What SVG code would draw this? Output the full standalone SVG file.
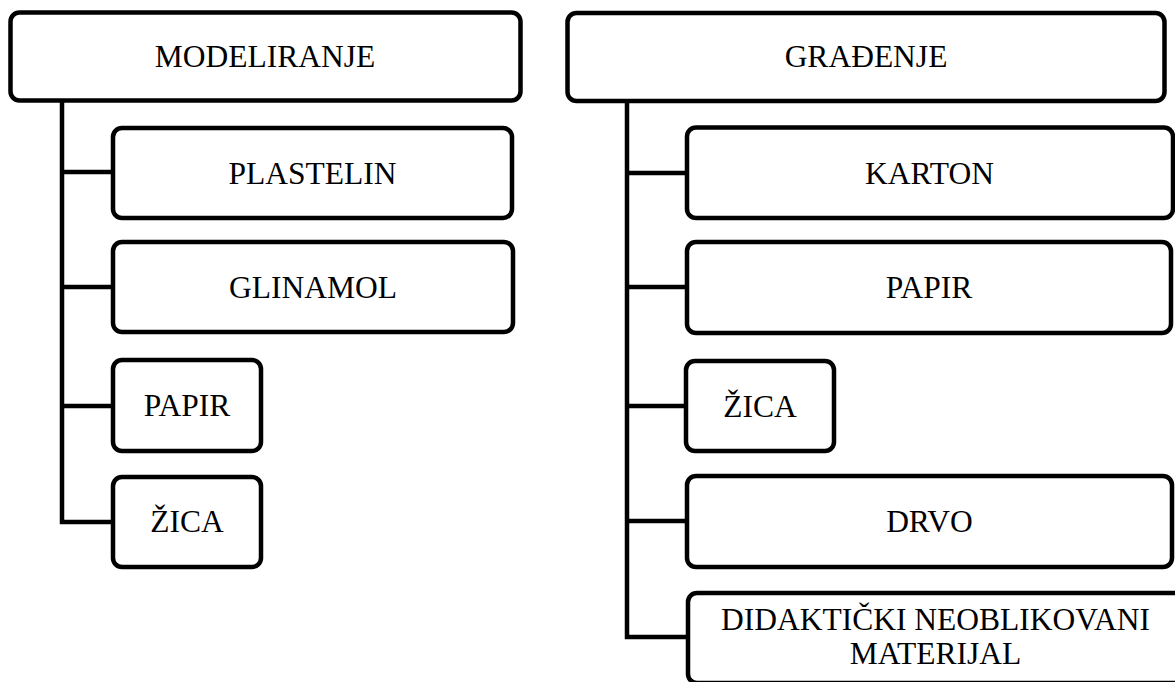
<svg xmlns="http://www.w3.org/2000/svg" width="1175" height="682" viewBox="0 0 1175 682">
  <style>
    .box { fill: #ffffff; stroke: #000000; stroke-width: 4.5; }
    .conn { fill: none; stroke: #000000; stroke-width: 4.5; stroke-linejoin: miter; stroke-linecap: butt; }
    text { font-family: 'Liberation Serif', 'Times New Roman', Times, serif; font-size: 31.5px; fill: #000000; text-anchor: middle; }
  </style>
  <rect x="0" y="0" width="1175" height="682" fill="#ffffff"/>
  <g id="connectors">
    <path class="conn" d="M62,100 V522 H113"/>
    <path class="conn" d="M62,172 H113"/>
    <path class="conn" d="M62,287 H113"/>
    <path class="conn" d="M62,406 H113"/>
    <path class="conn" d="M627,101 V637 H688"/>
    <path class="conn" d="M627,173 H687"/>
    <path class="conn" d="M627,287 H687"/>
    <path class="conn" d="M627,406 H686"/>
    <path class="conn" d="M627,521 H687"/>
  </g>
  <g id="modeliranje">
    <rect class="box" x="10.5" y="12.5" width="510" height="88" rx="9"/>
    <text x="265" y="66.5" font-family="Liberation Serif, serif">MODELIRANJE</text>
  </g>
  <g id="plastelin">
    <rect class="box" x="113" y="128" width="399" height="90" rx="9"/>
    <text x="312.5" y="183.5" font-family="Liberation Serif, serif">PLASTELIN</text>
  </g>
  <g id="glinamol">
    <rect class="box" x="113" y="242" width="400" height="90" rx="9"/>
    <text x="313" y="298" font-family="Liberation Serif, serif">GLINAMOL</text>
  </g>
  <g id="papir-m">
    <rect class="box" x="113" y="360" width="148" height="91" rx="9"/>
    <text x="187" y="416" font-family="Liberation Serif, serif">PAPIR</text>
  </g>
  <g id="zica-m">
    <rect class="box" x="113" y="477" width="148" height="90" rx="9"/>
    <text x="187" y="532" font-family="Liberation Serif, serif">ŽICA</text>
  </g>
  <g id="gradjenje">
    <rect class="box" x="567.5" y="13" width="597" height="88" rx="9"/>
    <text x="866" y="67" font-family="Liberation Serif, serif">GRAĐENJE</text>
  </g>
  <g id="karton">
    <rect class="box" x="687" y="127.5" width="486" height="90.5" rx="9"/>
    <text x="929.5" y="183.5" font-family="Liberation Serif, serif">KARTON</text>
  </g>
  <g id="papir-g">
    <rect class="box" x="687" y="242" width="484" height="91" rx="9"/>
    <text x="929" y="298" font-family="Liberation Serif, serif">PAPIR</text>
  </g>
  <g id="zica-g">
    <rect class="box" x="686" y="361" width="148" height="90" rx="9"/>
    <text x="760" y="416.5" font-family="Liberation Serif, serif">ŽICA</text>
  </g>
  <g id="drvo">
    <rect class="box" x="687" y="476" width="485" height="91" rx="9"/>
    <text x="929.5" y="531.5" font-family="Liberation Serif, serif">DRVO</text>
  </g>
  <g id="didakticki">
    <rect class="box" x="688" y="593" width="495" height="90" rx="9"/>
    <text x="935.5" y="630" font-family="Liberation Serif, serif">DIDAKTIČKI NEOBLIKOVANI</text>
    <text x="935.5" y="664" font-family="Liberation Serif, serif">MATERIJAL</text>
  </g>
</svg>
